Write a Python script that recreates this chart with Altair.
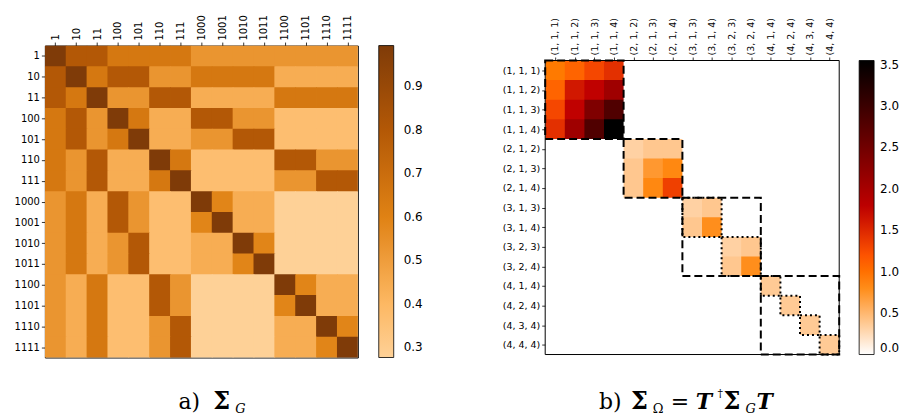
import json
import pandas as pd
import altair as alt

# ---------------- data ----------------
left_labels = ['1', '10', '11', '100', '101', '110', '111', '1000', '1001',
               '1010', '1011', '1100', '1101', '1110', '1111']

# value levels
D, A, B, B2, C, Dd, E, F = 0.994, 0.80, 0.65, 0.59, 0.53, 0.44, 0.37, 0.277

left_matrix = [
    [D, A, A, B, B, B, B, C, C, C, C, C, C, C, C],
    [A, D, B, A, A, C, C, B, B, B, B, Dd, Dd, Dd, Dd],
    [A, B, D, C, C, A, A, Dd, Dd, Dd, Dd, B, B, B, B],
    [B, A, C, D, B, Dd, Dd, A, A, C, C, E, E, E, E],
    [B, A, C, B, D, Dd, Dd, C, C, A, A, E, E, E, E],
    [B, C, A, Dd, Dd, D, B, E, E, E, E, A, A, C, C],
    [B, C, A, Dd, Dd, B, D, E, E, E, E, C, C, A, A],
    [C, B, Dd, A, C, E, E, D, B2, Dd, Dd, F, F, F, F],
    [C, B, Dd, A, C, E, E, B2, D, Dd, Dd, F, F, F, F],
    [C, B, Dd, C, A, E, E, Dd, Dd, D, B2, F, F, F, F],
    [C, B, Dd, C, A, E, E, Dd, Dd, B2, D, F, F, F, F],
    [C, Dd, B, E, E, A, C, F, F, F, F, D, B2, Dd, Dd],
    [C, Dd, B, E, E, A, C, F, F, F, F, B2, D, Dd, Dd],
    [C, Dd, B, E, E, C, A, F, F, F, F, Dd, Dd, D, B2],
    [C, Dd, B, E, E, C, A, F, F, F, F, Dd, Dd, B2, D],
]

right_labels = ['(1, 1, 1)', '(1, 1, 2)', '(1, 1, 3)', '(1, 1, 4)',
                '(2, 1, 2)', '(2, 1, 3)', '(2, 1, 4)',
                '(3, 1, 3)', '(3, 1, 4)', '(3, 2, 3)', '(3, 2, 4)',
                '(4, 1, 4)', '(4, 2, 4)', '(4, 3, 4)', '(4, 4, 4)']

block1 = [[0.93, 1.08, 1.28, 1.44],
          [1.08, 1.61, 1.77, 2.07],
          [1.28, 1.77, 2.37, 2.81],
          [1.44, 2.07, 2.81, 3.55]]
block2 = [[0.32, 0.39, 0.39],
          [0.39, 0.72, 0.83],
          [0.39, 0.83, 1.33]]
block3a = [[0.32, 0.39],
           [0.39, 0.79]]
block3b = [[0.32, 0.39],
           [0.39, 0.79]]
block4 = [[0.37], [0.37], [0.37], [0.37]]

# block boundaries (cell indices) for the outlines
dashed_blocks = [(0, 4), (4, 7), (7, 11), (11, 15)]
dotted_blocks = [(7, 9), (9, 11), (11, 12), (12, 13), (13, 14), (14, 15)]
frame_block = [(0, 15)]

left_ticks = [0.3, 0.4, 0.5, 0.6, 0.7, 0.8, 0.9]
right_ticks = [0.0, 0.5, 1.0, 1.5, 2.0, 2.5, 3.0, 3.5]

caption_a = ['a)', 'Σ', 'G']
caption_b = ['b)', 'Σ', 'Ω', '=', 'T', '†', 'Σ', 'G', 'T']

# ---------------- assemble tables ----------------
n = len(left_labels)
OVERLAP = 0.04  # cells overlap their neighbours slightly so no seams show


def cell_df(matrix):
    return pd.DataFrame([
        {'r': i, 'r2': i + 1 + OVERLAP, 'c': j, 'c2': j + 1 + OVERLAP, 'v': matrix[i][j]}
        for i in range(n) for j in range(n)
    ])


left_df = cell_df(left_matrix)

right_matrix = [[0.0] * n for _ in range(n)]
off = 0
for blk in [block1, block2, block3a, block3b]:
    for i, row in enumerate(blk):
        for j, val in enumerate(row):
            right_matrix[off + i][off + j] = val
    off += len(blk)
for i, row in enumerate(block4):
    right_matrix[off + i][off + i] = row[0]

right_df = cell_df(right_matrix)


def box_df(blocks):
    return pd.DataFrame([{'c': s, 'c2': e, 'r': s, 'r2': e} for s, e in blocks])


dashed_df = box_df(dashed_blocks)
dotted_df = box_df(dotted_blocks)
frame_df = box_df(frame_block)
one = pd.DataFrame({'k': [0]})

# ---------------- styling ----------------
left_scale = dict(domain=[0.277, 0.40, 0.60, 0.80, 0.994],
                  range=['#fed197', '#fdb863', '#e08214', '#b35806', '#7f3b08'],
                  interpolate='rgb')
vmax = 3.55
right_scale = dict(domain=[0, vmax * 0.25, vmax / 3, vmax * 0.5, vmax],
                   range=['#ffffff', '#ff8000', '#ff5500', '#bf0000', '#000000'],
                   interpolate='rgb')

CENTERS = [i + 0.5 for i in range(n)]
SHIFT = 15  # the right panel sits lower than the left one


def axes(labels, fs, top=0, h=None):
    lab = json.dumps(labels)
    expr = f"{lab}[floor(datum.value)]"
    common = dict(values=CENTERS, labelExpr=expr, title=None, grid=False, domain=False,
                  labelFontSize=fs, tickSize=3.5, labelPadding=2, labelOverlap=False,
                  labelBound=False, labelFlush=False)
    x = alt.X('c:Q', scale=alt.Scale(domain=[0, n], nice=False, zero=False),
              axis=alt.Axis(orient='top', labelAngle=-90, labelAlign='left',
                            labelBaseline='middle', offset=-top, **common))
    y = alt.Y('r:Q', scale=alt.Scale(domain=[0, n], nice=False, zero=False,
                                     range=[top, top + h]),
              axis=alt.Axis(orient='left', **common))
    return x, y


def legend(length, ticks, lx, ly, loff):
    return alt.Legend(title=None, orient='none', legendX=lx, legendY=ly,
                      gradientLength=length, padding=0,
                      gradientThickness=15, values=ticks, format='.1f', labelFontSize=12,
                      labelOffset=loff, gradientStrokeColor='black', gradientStrokeWidth=0.8,
                      labelFont='DejaVu Sans', labelColor='black', type='gradient',
                      direction='vertical')


def txt(s, x, y, size=22, weight='normal', style='normal'):
    return alt.Chart(one).mark_text(
        x=x, y=y, fontSize=size, font='DejaVu Serif', fontWeight=weight,
        fontStyle=style, align='left', baseline='alphabetic', color='black'
    ).encode(text=alt.value(s))


def heat(df, x, y, scale, leg):
    return alt.Chart(df).mark_rect(clip=True).encode(
        x=x, x2='c2:Q', y=y, y2='r2:Q',
        color=alt.Color('v:Q', scale=alt.Scale(**scale), legend=leg),
    )


BASE = 365  # caption baseline below the panels' origin

# ---------------- left panel ----------------
LW, LH = 314, 313
lx, ly = axes(left_labels, 10, 0, LH)
l_cells = heat(left_df, lx, ly, left_scale, legend(LH, left_ticks, LW + 21, 0, 10))
left_caps = [
    txt(caption_a[0], 134, BASE),
    txt(caption_a[1], 169, BASE, size=24, weight='bold'),
    txt(caption_a[2], 191, BASE + 4, size=13, style='italic'),
]
left = alt.layer(l_cells, *left_caps).properties(width=LW, height=LH)

# ---------------- right panel ----------------
RW, RH = 295, 295
rx, ry = axes(right_labels, 9.5, SHIFT, RH)
r_cells = heat(right_df, rx, ry, right_scale, legend(RH, right_ticks, RW + 20, SHIFT, 6))
dotted = alt.Chart(dotted_df).mark_rect(
    fillOpacity=0, fill='white', stroke='black', strokeWidth=2, strokeDash=[2, 3]
).encode(x=rx, x2='c2:Q', y=ry, y2='r2:Q')
dashed = alt.Chart(dashed_df).mark_rect(
    fillOpacity=0, fill='white', stroke='black', strokeWidth=2, strokeDash=[8, 4]
).encode(x=rx, x2='c2:Q', y=ry, y2='r2:Q')
frame = alt.Chart(frame_df).mark_rect(
    fillOpacity=0, fill='white', stroke='black', strokeWidth=1
).encode(x=rx, x2='c2:Q', y=ry, y2='r2:Q')

right_caps = [
    txt(caption_b[0], 54, BASE),
    txt(caption_b[1], 86, BASE, size=24, weight='bold'),
    txt(caption_b[2], 108, BASE + 4, size=13),
    txt(caption_b[3], 126, BASE),
    txt(caption_b[4], 151, BASE, weight='bold', style='italic'),
    txt(caption_b[5], 173, BASE - 12, size=11),
    txt(caption_b[6], 179, BASE, size=24, weight='bold'),
    txt(caption_b[7], 201, BASE + 4, size=13, style='italic'),
    txt(caption_b[8], 212, BASE, weight='bold', style='italic'),
]
right = alt.layer(r_cells, dotted, dashed, frame, *right_caps).properties(
    width=RW, height=RH + SHIFT, view=alt.ViewBackground(stroke='transparent')
)

chart = alt.hconcat(left, right, spacing=77).resolve_scale(
    color='independent', x='independent', y='independent'
).properties(
    padding={'left': 5, 'top': 5, 'right': 0, 'bottom': 0}
).configure_view(
    stroke='black', strokeWidth=1
).configure_axis(
    labelFont='DejaVu Sans', labelColor='black', tickColor='black', tickWidth=0.8
)

chart.save('out.html', embed_options={'renderer': 'svg', 'actions': False})
